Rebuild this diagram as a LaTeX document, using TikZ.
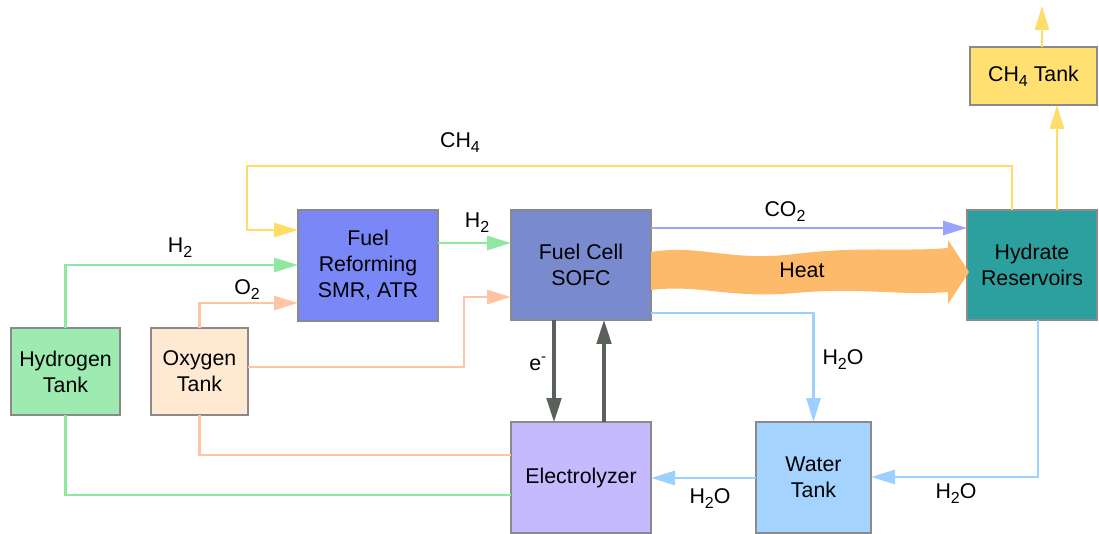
\documentclass[tikz,border=0pt]{standalone}
\usepackage{fontspec}
\setmainfont{Liberation Sans}
\usetikzlibrary{arrows.meta}
\definecolor{hgreen}{HTML}{9DEBB0}
\definecolor{ofill}{HTML}{FFE9D3}
\definecolor{frfill}{HTML}{7A88F7}
\definecolor{fcfill}{HTML}{7A8ACF}
\definecolor{elfill}{HTML}{C4BAFD}
\definecolor{wtfill}{HTML}{A3D3FE}
\definecolor{hrfill}{HTML}{2CA09F}
\definecolor{chfill}{HTML}{FFE070}
\definecolor{lgreen}{HTML}{8FE8A0}
\definecolor{lorange}{HTML}{FFC4A3}
\definecolor{lyellow}{HTML}{FFDD66}
\definecolor{lblue}{HTML}{99A4FF}
\definecolor{lsky}{HTML}{9CD0FF}
\definecolor{heatc}{HTML}{FDBA6B}
\definecolor{edark}{HTML}{5A605A}
\definecolor{boxline}{HTML}{8A8A8A}
\newcommand\chsub[1]{\raisebox{-0.45ex}{\fontsize{12}{12}\selectfont #1}}
\tikzset{
  box/.style={draw=boxline, line width=0.8pt, inner sep=0pt, outer sep=0pt, align=center,
    font=\fontsize{16}{19.5}\selectfont},
  lab/.style={font=\fontsize{16}{19.5}\selectfont, inner sep=0pt},
  flow/.style={line width=2.1pt},
  tip/.style={-{Triangle[length=18pt,width=10.5pt]}},
  gr/.style={flow, draw=lgreen},
  orr/.style={flow, draw=lorange},
  yl/.style={flow, draw=lyellow},
  bl/.style={flow, draw=lblue},
  sk/.style={flow, draw=lsky},
  el/.style={line width=2.4pt, draw=edark, -{Triangle[length=18pt,width=11pt]}},
}
\begin{document}
\begin{tikzpicture}[x=0.75pt,y=-0.75pt]
\useasboundingbox (0,0) rectangle (1099,534);
% boxes
\node[box, fill=hgreen, minimum width=81.75pt, minimum height=65.25pt] (ht) at (65.5,371.5) {Hydrogen\\Tank};
\node[box, fill=ofill, minimum width=72.75pt, minimum height=65.25pt] (ot) at (199.5,371.5) {Oxygen\\Tank};
\node[box, fill=frfill, minimum width=105pt, minimum height=83.25pt] (fr) at (368,265.5) {Fuel\\Reforming\\SMR, ATR};
\node[box, fill=fcfill, minimum width=105pt, minimum height=82.5pt] (fc) at (581,265) {Fuel Cell\\SOFC};
\node[box, fill=elfill, minimum width=105pt, minimum height=83.25pt] (ez) at (581,477.5) {Electrolyzer};
\node[box, fill=wtfill, minimum width=86.25pt, minimum height=83.25pt] (wt) at (813.5,477.5) {Water\\Tank};
\node[box, fill=hrfill, minimum width=97.5pt, minimum height=82.5pt] (hr) at (1032,265) {Hydrate\\Reservoirs};
\node[box, fill=chfill, minimum width=95.25pt, minimum height=43.5pt] (ch) at (1033.5,76) {CH\chsub{4} Tank};
% heat
\fill[heatc] (651,252) .. controls (700,244) and (730,262) .. (795,254)
  .. controls (860,246) and (900,252) .. (948,248) -- (948,240) -- (969,272) -- (948,304) -- (948,292)
  .. controls (900,296) and (860,287) .. (795,293)
  .. controls (730,299) and (700,284) .. (651,290) -- cycle;
\node[lab] (heat) at (802,270) {Heat};
% connectors
\draw[yl,tip] (1012,0 |- hr.north) -- (1012,166) -- (247,166) -- (247,230) -- (fr.west |- 0,230);
\draw[yl,tip] (1057,0 |- hr.north) -- (1057,0 |- ch.south);
\draw[yl,tip] (1042,0 |- ch.north) -- (1042,6);
\draw[gr,tip] (ht.north) |- (fr.west |- 0,265);
\draw[orr,tip] (ot.north) |- (fr.west |- 0,303);
\draw[orr,tip] (ot.east |- 0,367) -- (464,367) -- (464,297) -- (fc.west |- 0,297);
\draw[orr] (ot.south) |- (ez.west |- 0,455);
\draw[gr] (ht.south) |- (ez.west |- 0,495);
\draw[gr,tip] (fr.east |- 0,243) -- (fc.west |- 0,243);
\draw[bl,tip] (fc.east |- 0,228) -- (hr.west |- 0,228);
\draw[sk,tip] (fc.east |- 0,313) -| (wt.north);
\draw[el] (554,0 |- fc.south) -- (554,0 |- ez.north);
\draw[el] (604,0 |- ez.north) -- (604,0 |- fc.south);
\draw[sk,tip] (wt.west |- 0,478) -- (ez.east |- 0,478);
\draw[sk,tip] (1038,0 |- hr.south) |- (wt.east |- 0,477);
% labels
\node[lab] (lch4) at (460,143) {CH\chsub{4}};
\node[lab] (lh2a) at (180,248) {H\chsub{2}};
\node[lab] (lo2) at (247,290) {O\chsub{2}};
\node[lab] (lh2b) at (477,223) {H\chsub{2}};
\node[lab] (lco2) at (785,212) {CO\chsub{2}};
\node[lab] (le) at (538,364) {e\textsuperscript{-}};
\node[lab] (lw1) at (843,360) {H\chsub{2}O};
\node[lab] (lw2) at (710,499) {H\chsub{2}O};
\node[lab] (lw3) at (956,494) {H\chsub{2}O};
\end{tikzpicture}
\end{document}
